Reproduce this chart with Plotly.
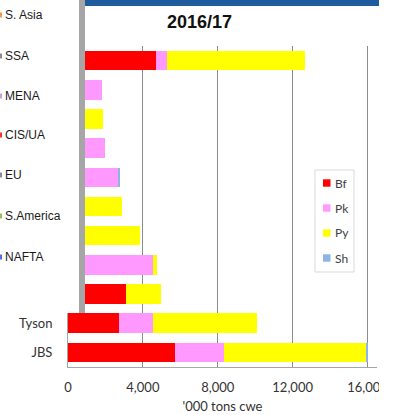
import plotly.graph_objects as go

# ---- data (top row first) ----
companies = ["Others", "Muyuan", "CP Foods", "Tönnies", "Danish Crown", "Wens",
             "BRF", "WH Group", "Cargill", "Tyson", "JBS"]
# only the two bottom labels are visible in the reference (the rest sit under the overlay)
company_labels = ["", "", "", "", "", "", "", "", "", "Tyson", "JBS"]
beef    = [4700, 0, 0, 0, 0, 0, 0, 0, 3100, 2700, 5735]
pork    = [605, 1815, 0, 1955, 2705, 0, 0, 4555, 0, 1840, 2580]
poultry = [7335, 0, 1870, 0, 0, 2885, 3860, 200, 1885, 5560, 7615]
sheep   = [0, 0, 0, 0, 40, 0, 0, 0, 0, 0, 120]

series_names = ["Bf", "Pk", "Py", "Sh"]
series_vals = [beef, pork, poultry, sheep]
series_colors = ["#ff0000", "#ff99ff", "#ffff00", "#8db4e2"]

regions = ["S. Asia", "SSA", "MENA", "CIS/UA", "EU", "S.America", "NAFTA"]
region_marks = ["#f79646", "#8c8c8c", "#c9a0dc", "#ff3030", "#7f8fa6", "#9bbb59", "#4f6fe0"]

x_ticks = [0, 4000, 8000, 12000, 16000]
x_tick_text = ["0", "4,000", "8,000", "12,000", "16,000"]

# ---- geometry helpers ----
W, H = 400, 415
L, R, T, B = 68, 23, 46, 48
PW, PH = W - L - R, H - T - B


def xp(px):
    return (px - L) / PW


def yp(py):
    return (H - B - py) / PH


fig = go.Figure()
for name, vals, col in zip(series_names, series_vals, series_colors):
    fig.add_trace(go.Bar(
        y=companies, x=vals, name=name, orientation="h",
        marker=dict(color=col, line=dict(width=0)),
        showlegend=False,
    ))

shapes = []
annotations = []

# overlay panel on the left (white + gray bar)
shapes.append(dict(type="rect", xref="paper", yref="paper",
                   x0=xp(-5), x1=xp(79), y0=yp(313), y1=yp(-5),
                   fillcolor="white", line=dict(width=0), layer="above"))
shapes.append(dict(type="rect", xref="paper", yref="paper",
                   x0=xp(79), x1=xp(85), y0=yp(313), y1=yp(-5),
                   fillcolor="#a6a6a6", line=dict(width=0), layer="above"))
# blue header bar
shapes.append(dict(type="rect", xref="paper", yref="paper",
                   x0=xp(85), x1=xp(379), y0=yp(6), y1=yp(-5),
                   fillcolor="#1f5c9e", line=dict(width=0), layer="above"))
# right crop
shapes.append(dict(type="rect", xref="paper", yref="paper",
                   x0=xp(379), x1=xp(405), y0=yp(420), y1=yp(6),
                   fillcolor="white", line=dict(width=0), layer="above"))

# region labels
reg_y = [15, 56, 96, 135, 175, 216, 257]
for txt, yy, mc in zip(regions, reg_y, region_marks):
    annotations.append(dict(x=xp(3), y=yp(yy), xref="paper", yref="paper",
                            text=txt, showarrow=False, xanchor="left", yanchor="middle",
                            font=dict(family="Liberation Sans, Arial", size=12, color="#1a1a1a")))
    shapes.append(dict(type="rect", xref="paper", yref="paper",
                       x0=xp(0), x1=xp(2), y0=yp(yy + 2.5), y1=yp(yy - 2.5),
                       fillcolor=mc, line=dict(width=0), layer="above"))

# title
annotations.append(dict(x=xp(199), y=yp(22), xref="paper", yref="paper",
                        text="<b>2016/17</b>", showarrow=False,
                        xanchor="center", yanchor="middle",
                        font=dict(family="Liberation Sans, Arial", size=18, color="#111111")))

# legend (manual)
shapes.append(dict(type="rect", xref="paper", yref="paper",
                   x0=xp(315), x1=xp(354), y0=yp(272), y1=yp(170),
                   fillcolor="white", line=dict(color="#d9d9d9", width=1), layer="above"))
leg_y = [183, 208, 233, 258]
for name, col, yy in zip(series_names, series_colors, leg_y):
    shapes.append(dict(type="rect", xref="paper", yref="paper",
                       x0=xp(323), x1=xp(330.5), y0=yp(yy + 3.7), y1=yp(yy - 3.7),
                       fillcolor=col, line=dict(width=0), layer="above"))
    annotations.append(dict(x=xp(333), y=yp(yy), xref="paper", yref="paper",
                            text=name, showarrow=False, xanchor="left", yanchor="middle",
                            font=dict(family="Lato, Liberation Sans", size=12, color="#404040")))

fig.update_layout(
    width=W, height=H,
    margin=dict(l=L, r=R, t=T, b=B, pad=0, autoexpand=False),
    barmode="stack", bargap=0.33,
    paper_bgcolor="white", plot_bgcolor="white",
    showlegend=False,
    shapes=shapes, annotations=annotations,
    font=dict(family="Lato, Liberation Sans", size=13, color="#333333"),
)
fig.update_xaxes(
    range=[0, PW / 0.01872], tickvals=x_ticks, ticktext=x_tick_text,
    showgrid=True, gridcolor="#8c8c8c", gridwidth=1,
    showline=True, linecolor="#a6a6a6", linewidth=1,
    zeroline=False, ticks="", ticklabelstandoff=8, automargin=False,
    tickfont=dict(family="Lato, Liberation Sans", size=13, color="#333333"),
    title=dict(text="'000 tons cwe", standoff=8,
               font=dict(family="Lato, Liberation Sans", size=13, color="#333333")),
    fixedrange=True,
)
fig.update_yaxes(
    autorange="reversed", showgrid=False,
    tickvals=companies, ticktext=company_labels,
    showline=True, linecolor="#a6a6a6", linewidth=1,
    ticks="", ticklabelstandoff=12, automargin=False,
    tickfont=dict(family="Lato, Liberation Sans", size=13, color="#333333"),
    fixedrange=True,
)

fig.write_html("out.html", config=dict(displayModeBar=False),
               post_script="document.body.style.margin='0';")
